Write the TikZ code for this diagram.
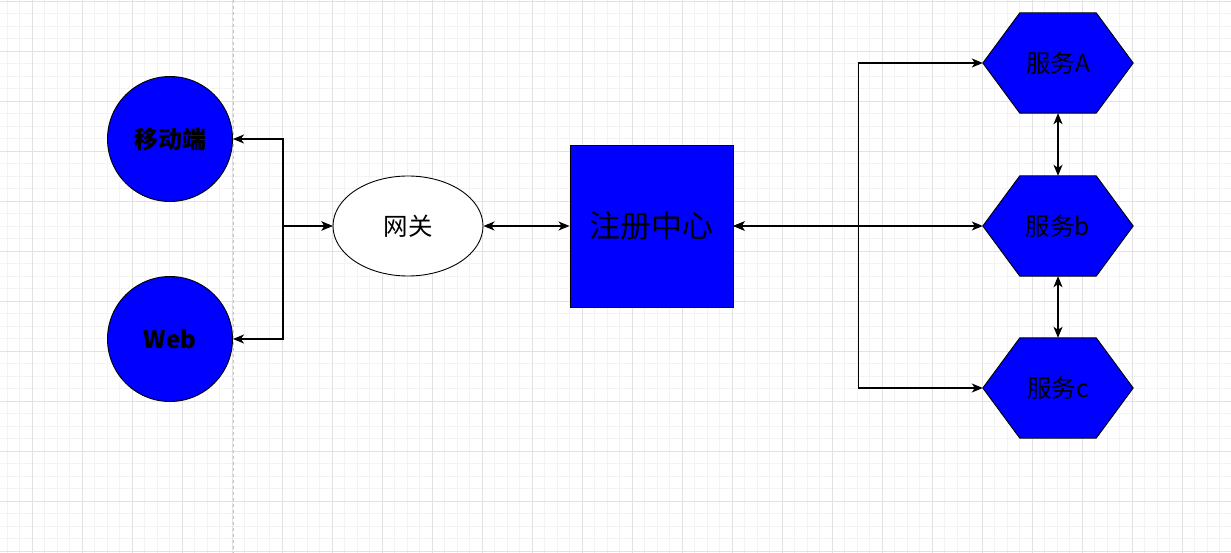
\documentclass[tikz,border=0pt]{standalone}
\usepackage{fontspec}
\setmainfont{Noto Sans CJK SC}
\usetikzlibrary{shapes,arrows.meta,positioning,calc,backgrounds}
\definecolor{gridminor}{HTML}{F3F3F3}
\definecolor{gridmajor}{HTML}{E2E2E2}
\definecolor{guide}{HTML}{C4C4C4}

\begin{document}
\begin{tikzpicture}[x=1pt,y=-1pt,
    >={Stealth[length=11pt,width=9pt,inset=3pt]},
    link/.style={line width=1.4pt},
    client/.style={circle,draw,line width=0.9pt,fill=blue,minimum size=125pt,inner sep=0pt,font=\fontsize{24}{26}\selectfont\bfseries},
    gate/.style={ellipse,draw,line width=0.9pt,fill=white,minimum width=150pt,minimum height=100pt,inner sep=0pt,font=\fontsize{24.5}{26}\selectfont},
    registry/.style={rectangle,draw,line width=0.9pt,fill=blue,minimum width=163pt,minimum height=162pt,inner sep=0pt,font=\fontsize{31}{33}\selectfont},
    svc/.style={rectangle,minimum width=150pt,minimum height=100pt,inner sep=0pt,font=\fontsize{24.5}{26}\selectfont}]
    \useasboundingbox (0,0) rectangle (1231,553);
    \begin{scope}[on background layer]
        \fill[white] (0,0) rectangle (1231,553);
        \foreach \i in {0,...,98} {
            \draw[gridminor,line width=0.8pt] ({7+12.5*\i},0) -- ++(0,553);
        }
        \foreach \i in {0,...,44} {
            \draw[gridminor,line width=0.8pt] (0,{1+12.5*\i}) -- ++(1231,0);
        }
        \foreach \x in {32,82,...,1232} {
            \draw[gridmajor,line width=0.8pt] (\x,0) -- (\x,553);
        }
        \foreach \y in {1,51,...,551} {
            \draw[gridmajor,line width=0.8pt] (0,\y) -- (1231,\y);
        }
        \draw[guide,line width=1pt,dash pattern=on 3pt off 3pt] (233,0) -- (233,553);
    \end{scope}

    \node[client] (mobile) at (170,139) {移动端};
    \node[client] (web) at (170,339) {Web};
    \node[gate] (gateway) at (408,226) {网关};
    \node[registry] (center) at (651.5,226) {注册中心};
    \node[svc] (svcA) at (1058,63) {服务A};
    \node[svc] (svcB) at (1058,226) {服务b};
    \node[svc] (svcC) at (1058,388) {服务c};

    \begin{scope}[on background layer]
        \foreach \n in {svcA,svcB,svcC} {
            \draw[line width=0.9pt,fill=blue] (\n.west) -- ([xshift=37pt]\n.north west) -- ([xshift=-37pt]\n.north east)
                -- (\n.east) -- ([xshift=-37pt]\n.south east) -- ([xshift=37pt]\n.south west) -- cycle;
        }
    \end{scope}

    \draw[link,<->] (mobile.east) -- ++(50,0) |- (gateway.west);
    \draw[link,<->] (web.east) -- ++(50,0) |- (gateway.west);
    \draw[link,<->] (gateway.east) -- (center.west);
    \draw[link,<->] (center.east) -- ++(125,0) |- (svcA.west);
    \draw[link,<->] (center.east) -- (svcB.west);
    \draw[link,<->] (center.east) -- ++(125,0) |- (svcC.west);
    \draw[link,<->] (svcA.south) -- (svcB.north);
    \draw[link,<->] (svcB.south) -- (svcC.north);
\end{tikzpicture}
\end{document}
